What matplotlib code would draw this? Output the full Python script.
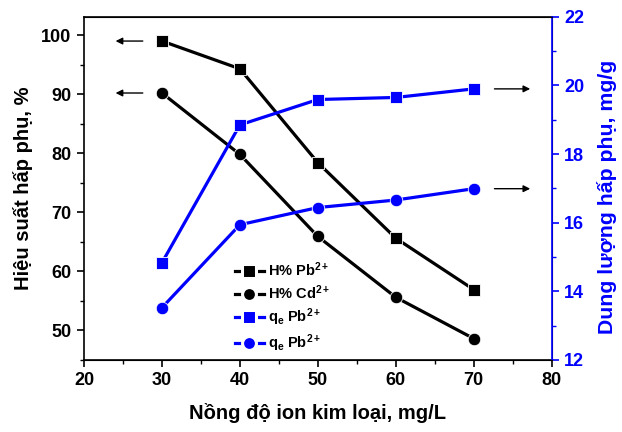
import matplotlib
matplotlib.use("Agg")
import matplotlib.pyplot as plt
from matplotlib.ticker import MultipleLocator

plt.rcParams["font.family"] = ["Liberation Sans", "DejaVu Sans"]
plt.rcParams["font.weight"] = "bold"
plt.rcParams["mathtext.fontset"] = "custom"
plt.rcParams["mathtext.rm"] = "Liberation Sans:bold"
plt.rcParams["mathtext.it"] = "Liberation Sans:bold"
plt.rcParams["mathtext.bf"] = "Liberation Sans:bold"

# ------------------------------------------------------------
# Data
# ------------------------------------------------------------
conc = [30, 40, 50, 60, 70]
h_pb = [99.0, 94.3, 78.4, 65.6, 56.9]
h_cd = [90.2, 79.8, 65.9, 55.6, 48.6]
qe_pb = [14.83, 18.85, 19.59, 19.65, 19.9]
qe_pb2 = [13.52, 15.94, 16.44, 16.66, 16.99]

labels = [r"H% Pb$^{2+}$", r"H% Cd$^{2+}$", r"q$_e$ Pb$^{2+}$", r"q$_e$ Pb$^{2+}$"]

BLUE = "#0000ff"

fig = plt.figure(figsize=(6.22, 4.32), dpi=100)
ax = fig.add_axes([0.135, 0.167, 0.752, 0.794])
ax2 = ax.twinx()

style = dict(linewidth=2.3, markersize=9, markeredgecolor="white", markeredgewidth=0.6)

l1, = ax.plot(conc, h_pb, "-s", color="black", label=labels[0], **style)
l2, = ax.plot(conc, h_cd, "-o", color="black", label=labels[1], **style)
l3, = ax2.plot(conc, qe_pb, "-s", color=BLUE, label=labels[2], **style)
l4, = ax2.plot(conc, qe_pb2, "-o", color=BLUE, label=labels[3], **style)

ax.set_xlim(20, 80)
ax.set_ylim(45, 103.1)
ax2.set_ylim(12, 22)

ax.xaxis.set_major_locator(MultipleLocator(10))
ax.xaxis.set_minor_locator(MultipleLocator(5))
ax.yaxis.set_major_locator(MultipleLocator(10))
ax.yaxis.set_minor_locator(MultipleLocator(5))
ax2.yaxis.set_major_locator(MultipleLocator(2))
ax2.yaxis.set_minor_locator(MultipleLocator(1))

ax.tick_params(axis="both", which="major", direction="out", length=5, width=1.2,
               labelsize=13, pad=4)
ax.tick_params(axis="both", which="minor", direction="out", length=3, width=1.0)
ax2.tick_params(axis="y", which="major", direction="out", length=5, width=1.2,
                labelsize=13, colors=BLUE, pad=4)
ax2.tick_params(axis="y", which="minor", direction="out", length=3, width=1.0, colors=BLUE)

for side in ["left", "bottom", "top"]:
    ax.spines[side].set_linewidth(1.2)
ax2.spines["right"].set_color(BLUE)
ax2.spines["right"].set_linewidth(1.2)
ax2.spines["left"].set_visible(False)

ax.set_xlabel("Nồng độ ion kim loại, mg/L", fontsize=14.5, fontweight="bold", labelpad=10)
ax.set_ylabel("Hiệu suất hấp phụ, %", fontsize=14.5, fontweight="bold", labelpad=6)
ax2.set_ylabel("Dung lượng hấp phụ, mg/g", fontsize=15.3, fontweight="bold", color=BLUE)
ax2.yaxis.set_label_coords(1.098, 0.475)

# arrows pointing to the axes
arrow = dict(arrowstyle="-|>", color="black", linewidth=1.0, mutation_scale=10)
ax.annotate("", xy=(23.7, h_pb[0]), xytext=(27.9, h_pb[0]), arrowprops=arrow)
ax.annotate("", xy=(23.7, h_cd[0]), xytext=(27.9, h_cd[0]), arrowprops=arrow)
ax2.annotate("", xy=(77.6, qe_pb[-1]), xytext=(72.3, qe_pb[-1]), arrowprops=arrow)
ax2.annotate("", xy=(77.6, qe_pb2[-1]), xytext=(72.3, qe_pb2[-1]), arrowprops=arrow)

leg = ax2.legend(handles=[l1, l2, l3, l4], loc="lower left", bbox_to_anchor=(0.31, 0.0),
                 frameon=False, fontsize=10.5, handlelength=2.0, handletextpad=0.3,
                 labelspacing=0.3, borderaxespad=0)
# Origin-style legend symbols: small gap between line and marker
for line in leg.get_lines():
    line.set_markersize(10)
    line.set_markeredgewidth(2.2)

fig.savefig("out.png", dpi=100)
